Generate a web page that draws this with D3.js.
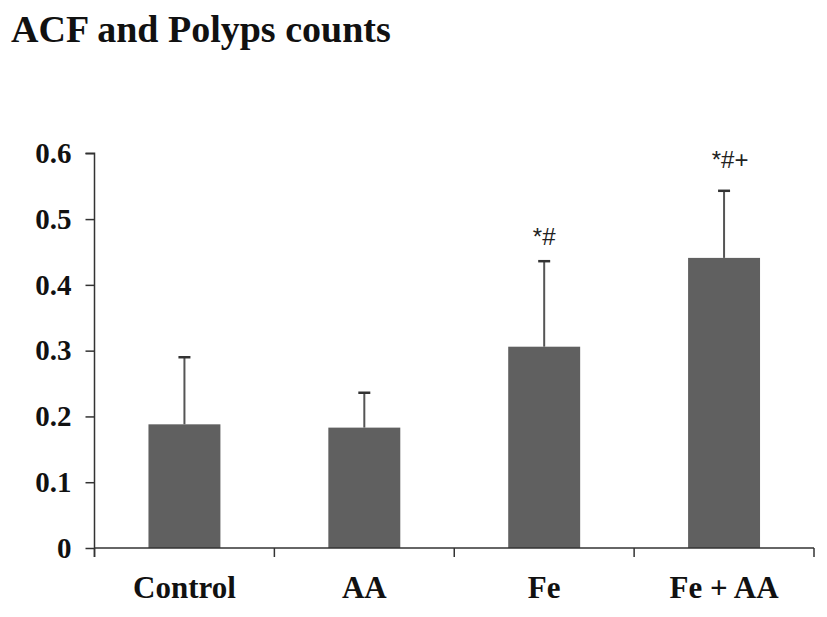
<!DOCTYPE html>
<html>
<head>
<meta charset="utf-8">
<script src="https://cdn.jsdelivr.net/npm/d3@7"></script>
<style>
  body { margin: 0; background: #fff; }
  svg { display: block; }
</style>
</head>
<body>
<div id="chart"></div>
<script>
// data
const groups = ["Control", "AA", "Fe", "Fe + AA"];
const means = [0.188, 0.183, 0.306, 0.441];
const errors = [0.102, 0.053, 0.130, 0.102];
const marks = ["", "", "*#", "*#+"];
const yTicks = [0, 0.1, 0.2, 0.3, 0.4, 0.5, 0.6];

const width = 827, height = 617;
const plotLeft = 94.5, plotRight = 814, plotTop = 153.3, plotBottom = 548;

const svg = d3.select("#chart").append("svg")
    .attr("width", width)
    .attr("height", height);

svg.append("text")
    .attr("x", 11)
    .attr("y", 42)
    .attr("font-family", "Liberation Serif, Times New Roman, serif")
    .attr("font-weight", "bold")
    .attr("font-size", 38)
    .attr("fill", "#111")
    .text("ACF and Polyps counts");

let x = d3.scaleBand().domain(groups).range([plotLeft, plotRight]).paddingInner(0.6).paddingOuter(0.3);
let band = d3.scaleBand().domain(groups).range([plotLeft, plotRight]);
let y = d3.scaleLinear().domain([0, 0.6]).range([plotBottom, plotTop]);

// bars
svg.selectAll("rect.bar")
    .data(groups)
    .enter().append("rect")
    .attr("class", "bar")
    .attr("x", d => x(d))
    .attr("y", (d, i) => y(means[i]))
    .attr("width", x.bandwidth())
    .attr("height", (d, i) => y(0) - y(means[i]))
    .attr("fill", "#606060");

// error bars, upper side only
const err = svg.selectAll("g.err")
    .data(groups)
    .enter().append("g")
    .attr("class", "err")
    .attr("transform", d => `translate(${x(d) + x.bandwidth() / 2},0)`);

err.append("line")
    .attr("y1", (d, i) => y(means[i]))
    .attr("y2", (d, i) => y(means[i] + errors[i]))
    .attr("stroke", "#555")
    .attr("stroke-width", 2);

err.append("line")
    .attr("x1", -6).attr("x2", 6)
    .attr("y1", (d, i) => y(means[i] + errors[i]))
    .attr("y2", (d, i) => y(means[i] + errors[i]))
    .attr("stroke", "#333")
    .attr("stroke-width", 2.5);

err.append("text")
    .attr("x", (d, i) => i === 3 ? 6 : 0)
    .attr("y", (d, i) => y(means[i] + errors[i]) - (i === 3 ? 23 : 16))
    .attr("text-anchor", "middle")
    .attr("font-family", "Liberation Sans, Arial, sans-serif")
    .attr("font-size", 24)
    .attr("fill", "#222")
    .text((d, i) => marks[i]);

// y axis
const yAxis = svg.append("g")
    .attr("transform", `translate(${plotLeft},0)`)
    .call(d3.axisLeft(y).tickValues(yTicks).tickSize(9).tickPadding(14)
        .tickFormat(d => d === 0 ? "0" : d3.format(".1f")(d)));

// x axis
const xAxis = svg.append("g")
    .attr("transform", `translate(0,${plotBottom})`)
    .call(d3.axisBottom(band).tickSize(0).tickPadding(28));

xAxis.selectAll(".xb")
    .data(groups.concat(["end"]))
    .enter().append("line")
    .attr("x1", (d, i) => i < groups.length ? band(d) : plotRight)
    .attr("x2", (d, i) => i < groups.length ? band(d) : plotRight)
    .attr("y1", 0).attr("y2", 9)
    .attr("stroke", "#333")
    .attr("stroke-width", 1.5);

[yAxis, xAxis].forEach(g => {
  g.select(".domain").attr("stroke", "#333").attr("stroke-width", 1.5);
  g.selectAll(".tick line").attr("stroke", "#333").attr("stroke-width", 1.5);
  g.selectAll("text")
      .attr("font-family", "Liberation Serif, Times New Roman, serif")
      .attr("font-weight", "bold")
      .attr("fill", "#111");
});
yAxis.select(".domain").attr("d", `M-9,${plotTop}H0V${plotBottom + 9}`);
xAxis.select(".domain").attr("d", `M${plotLeft},0H${plotRight}`);
yAxis.selectAll("text").attr("font-size", 29);
xAxis.selectAll("text").attr("font-size", 31);
</script>
</body>
</html>
